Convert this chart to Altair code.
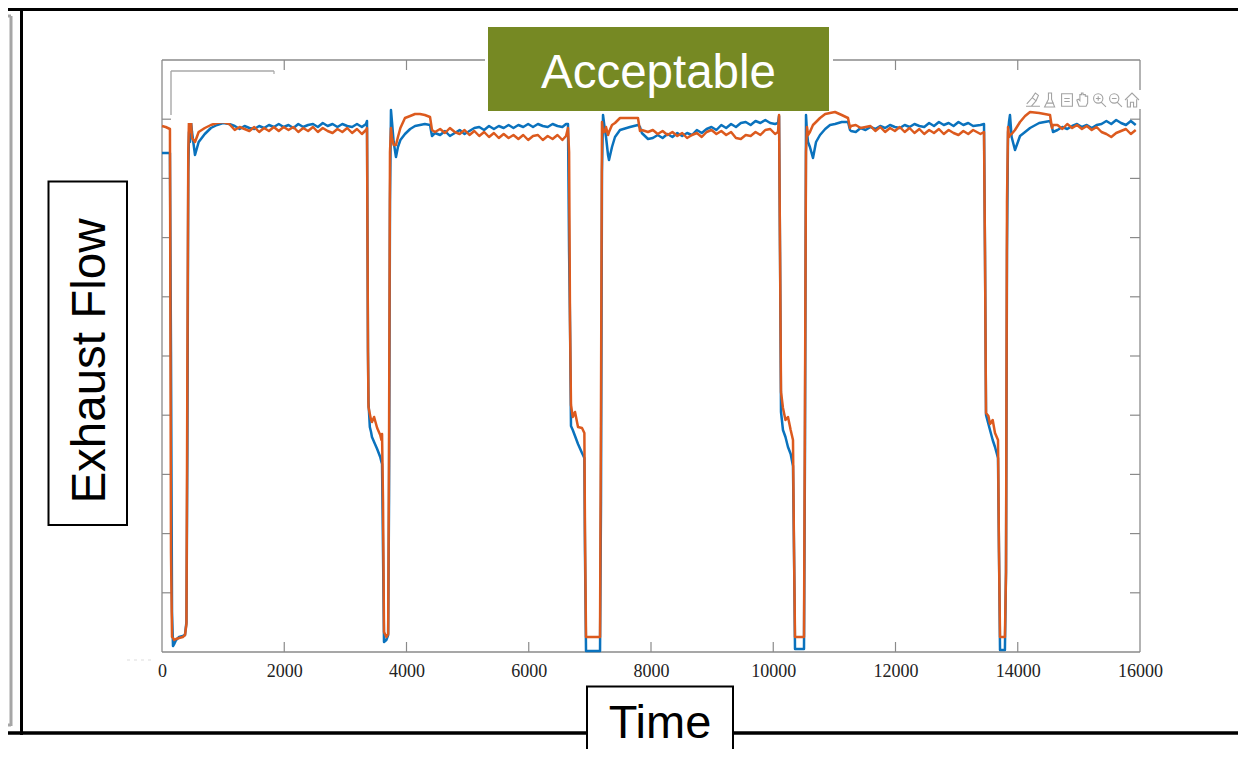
import altair as alt
import pandas as pd

# ---- data (flow is in the plot's unlabelled units, 0-592) ----
TIME = [
    0, 60, 130, 147, 164, 180, 200, 230, 280, 340, 376, 400, 415, 430, 442, 458, 475, 491, 540, 600, 700, 800, 900, 1000, 1100, 1190,
    1270, 1350, 1430, 1510, 1590, 1670, 1750, 1830, 1910, 1990, 2070, 2150, 2230, 2310, 2390, 2470, 2550, 2630, 2710, 2790, 2870, 2950, 3030, 3110, 3190, 3270,
    3337, 3354, 3370, 3378, 3400, 3420, 3435, 3470, 3520, 3570, 3590, 3600, 3616, 3632, 3670, 3700, 3714, 3730, 3746, 3763, 3790, 3828, 3860, 3900, 3975, 4060, 4140, 4220, 4300, 4385, 4417, 4466,
    4550, 4630, 4710, 4790, 4870, 4950, 5030, 5110, 5190, 5270, 5350, 5430, 5510, 5590, 5670, 5750, 5830, 5910, 5990, 6070, 6150, 6230, 6310, 6390, 6470, 6550, 6610,
    6642, 6660, 6675, 6691, 6720, 6757, 6806, 6871, 6910, 6920, 6937, 7000, 7166, 7182, 7198, 7215, 7240, 7264, 7297, 7313, 7362, 7411, 7493, 7656, 7787, 7820, 7850, 7951,
    8030, 8110, 8190, 8270, 8350, 8430, 8510, 8590, 8670, 8750, 8830, 8910, 8990, 9070, 9150, 9230, 9310, 9390, 9470, 9550, 9630, 9710, 9790, 9870, 9950, 10030,
    10078, 10095, 10111, 10127, 10159, 10200, 10241, 10285, 10323, 10340, 10356, 10503, 10519, 10536, 10552, 10569, 10600, 10650, 10700, 10765, 10850, 10929, 11010, 11120, 11223, 11256, 11272,
    11350, 11430, 11510, 11590, 11670, 11750, 11830, 11910, 11990, 12070, 12150, 12230, 12310, 12390, 12470, 12550, 12630, 12710, 12790, 12870, 12950, 13030, 13110, 13190, 13270, 13390,
    13448, 13464, 13481, 13520, 13546, 13590, 13628, 13677, 13693, 13710, 13790, 13808, 13824, 13841, 13857, 13873, 13900, 13955, 14037, 14120, 14201, 14350, 14528, 14560, 14577,
    14650, 14730, 14810, 14890, 14970, 15050, 15130, 15210, 15290, 15370, 15450, 15530, 15610, 15690, 15770, 15850, 15930,
]
FLOW_BLUE = [
    499, 499, 499, 300, 40, 6, 8, 12, 15, 16, 17, 30, 200, 480, 520, 510, 530, 520, 497, 510, 518, 524, 527, 529, 528, 526,
    523, 526, 524, 523, 526, 524, 527, 525, 528, 525, 527, 524, 528, 525, 527, 528, 525, 529, 526, 528, 525, 528, 526, 525, 528, 525,
    528, 531, 300, 250, 225, 220, 215, 210, 203, 195, 190, 188, 100, 10, 12, 17, 150, 450, 542, 530, 510, 495, 505, 512, 518, 523, 526, 527, 528, 527, 516, 519,
    517, 521, 516, 519, 522, 518, 521, 524, 525, 522, 526, 523, 526, 524, 527, 524, 527, 525, 528, 525, 528, 526, 525, 528, 526, 525, 528,
    528, 400, 330, 226, 222, 216, 208, 199, 194, 100, 1, 1, 1, 150, 480, 537, 525, 515, 497, 492, 505, 515, 522, 525, 527, 525, 519, 513,
    514, 517, 514, 518, 515, 519, 516, 519, 517, 522, 519, 523, 525, 522, 527, 524, 528, 525, 529, 530, 527, 531, 529, 532, 529, 528,
    529, 536, 400, 240, 222, 215, 205, 198, 186, 100, 3, 3, 200, 537, 520, 510, 505, 494, 510, 517, 523, 527, 528, 530, 530, 522, 521,
    520, 524, 522, 525, 523, 526, 524, 527, 525, 524, 527, 525, 528, 526, 525, 529, 526, 530, 527, 529, 526, 530, 527, 529, 526, 527,
    528, 400, 237, 228, 222, 212, 205, 194, 100, 2, 2, 80, 400, 520, 530, 537, 515, 502, 516, 520, 524, 529, 531, 525, 520,
    522, 525, 523, 526, 528, 525, 527, 524, 527, 528, 531, 528, 532, 529, 527, 531, 527,
]
FLOW_ORANGE = [
    526, 525, 523, 100, 15, 14, 12, 13, 14, 15, 17, 28, 280, 500, 534, 520, 530, 514, 510, 520, 524, 527, 529, 530, 528, 522,
    525, 523, 521, 525, 520, 524, 521, 525, 521, 525, 522, 525, 520, 524, 521, 525, 520, 524, 521, 519, 523, 520, 524, 519, 523, 518,
    522, 524, 300, 245, 238, 232, 230, 235, 224, 217, 212, 218, 150, 20, 15, 18, 200, 500, 524, 514, 507, 507, 515, 524, 534, 536, 538, 538, 537, 535, 522, 520,
    523, 519, 524, 520, 518, 522, 517, 521, 516, 520, 515, 519, 514, 518, 514, 517, 513, 517, 512, 516, 517, 512, 516, 513, 517, 512, 516,
    524, 500, 330, 247, 235, 240, 225, 224, 219, 120, 15, 15, 15, 250, 530, 520, 520, 525, 517, 520, 527, 529, 534, 534, 534, 521, 522, 520,
    522, 518, 521, 517, 520, 516, 519, 514, 517, 519, 515, 520, 522, 518, 521, 517, 520, 514, 513, 517, 516, 520, 517, 522, 523, 518,
    520, 537, 400, 260, 244, 232, 235, 222, 212, 100, 15, 15, 250, 500, 525, 517, 520, 527, 530, 534, 538, 539, 540, 537, 534, 524, 526,
    527, 524, 525, 526, 521, 525, 520, 524, 521, 525, 520, 524, 519, 523, 518, 522, 519, 523, 518, 522, 519, 517, 521, 518, 522, 518,
    520, 400, 239, 236, 228, 232, 219, 212, 100, 15, 15, 80, 450, 525, 515, 517, 518, 522, 530, 536, 540, 539, 537, 524, 527,
    527, 523, 528, 524, 527, 523, 526, 522, 525, 520, 518, 515, 519, 521, 523, 518, 522,
]
X_TICKS = [0, 2000, 4000, 6000, 8000, 10000, 12000, 14000, 16000]
Y_TICKS = [59.2, 118.4, 177.6, 236.8, 296, 355.2, 414.4, 473.6, 532.8]
Y_LABEL = "Exhaust Flow"
X_LABEL = "Time"
BADGE = "Acceptable"

# ---- page geometry ----
L, T, W, H = 162, 60, 978, 592
PAGE = 8
ONE = alt.Data(values=[{"k": 1}])
px = lambda v: alt.value(v - L)
py = lambda v: alt.value(v - T)

x_scale = alt.Scale(domain=[0, 16000], nice=False, zero=False)
y_scale = alt.Scale(domain=[0, 592], nice=False, zero=False)
x_axis = alt.Axis(
    title=None, values=X_TICKS, ticks=False, domain=False, grid=False,
    labelFont="Liberation Serif", labelFontSize=18, labelColor="#222222",
    labelPadding=10, labelFlush=False, format="d")
GREY = "#8a8a8a"


def rect(x0, x1, y0, y1, fill="white", **kw):
    return alt.Chart(ONE).mark_rect(fill=fill, clip=False, **kw).encode(
        x=px(x0), x2=px(x1), y=py(y0), y2=py(y1))


def hline(x0, x1, y, color=GREY, w=1.3, **kw):
    return alt.Chart(ONE).mark_rule(color=color, strokeWidth=w, clip=False, **kw).encode(
        x=px(x0), x2=px(x1), y=py(y))


def vline(x, y0, y1, color=GREY, w=1.3):
    return alt.Chart(ONE).mark_rule(color=color, strokeWidth=w, clip=False).encode(
        x=px(x), y=py(y0), y2=py(y1))


def label(text, x, y, size, color="black", angle=0, font="Liberation Sans"):
    return alt.Chart(alt.Data(values=[{"t": text}])).mark_text(
        fontSize=size, color=color, angle=angle, font=font, align="center",
        baseline="middle", clip=False).encode(x=px(x), y=py(y), text="t:N")


# ---- ticks pointing inward on all sides ----
xt = pd.DataFrame({"tick": X_TICKS[1:-1]})
yt = pd.DataFrame({"tick": Y_TICKS})
X = alt.X("tick:Q", scale=x_scale, axis=x_axis)
Y = alt.Y("tick:Q", scale=y_scale, axis=None)
labels_base = alt.Chart(pd.DataFrame({"tick": X_TICKS})).mark_rule(opacity=0).encode(x=X)
bottom_ticks = alt.Chart(xt).mark_rule(color=GREY, strokeWidth=1.2).encode(
    x=X, y=alt.value(H - 10), y2=alt.value(H))
top_ticks = alt.Chart(xt).mark_rule(color=GREY, strokeWidth=1.2).encode(
    x=X, y=alt.value(0), y2=alt.value(10))
left_ticks = alt.Chart(yt).mark_rule(color=GREY, strokeWidth=1.2).encode(
    y=Y, x=alt.value(0), x2=alt.value(9))
right_ticks = alt.Chart(yt).mark_rule(color=GREY, strokeWidth=1.2).encode(
    y=Y, x=alt.value(W - 10), x2=alt.value(W))

frame = [
    hline(L, 485, T), hline(833, L + W, T), hline(L, L + W, T + H),
    vline(L, T, T + H), vline(L + W, T, 90), vline(L + W, 109, T + H),
]

# ---- the two traces ----
df = pd.DataFrame({"time": TIME, "blue": FLOW_BLUE, "orange": FLOW_ORANGE})
T_X = alt.X("time:Q", scale=x_scale, axis=x_axis)
blue = alt.Chart(df).mark_line(color="#0a72bd", strokeWidth=2.5, strokeJoin="round").encode(
    x=T_X, y=alt.Y("blue:Q", scale=y_scale, axis=None), order="time:Q")
orange = alt.Chart(df).mark_line(color="#dc5a1e", strokeWidth=2.5, strokeJoin="round").encode(
    x=T_X, y=alt.Y("orange:Q", scale=y_scale, axis=None), order="time:Q")

# ---- leftover legend box, masked by white ----
mask = rect(172, 233, 61, 123)
legend_box = [hline(171, 274, 71, color="#a8a8a8", w=1.4), vline(171, 71, 115, color="#a8a8a8", w=1.4),
              vline(274, 71, 74, color="#a8a8a8", w=1.2)]

# ---- toolbar glyphs ----
ICON_X = [1033, 1050, 1067, 1083, 1099, 1115, 1132]
ICONS = [
    "M-0.9 0.8 L0.9 0.8 M-0.8 0.5 L-0.1 -0.3 L0.4 0.1 L-0.2 0.8 M-0.1 -0.3 L0.3 -0.9 L0.7 -0.6 L0.4 0.1",
    "M-0.2 -0.9 L0.2 -0.9 L0.2 -0.1 L0.6 0.9 L-0.7 0.9 L-0.2 -0.1 Z M-0.5 0.4 L0.5 0.4",
    "M-0.7 -0.8 L0.7 -0.8 L0.7 0.8 L-0.7 0.8 Z M-0.35 -0.2 L0.35 -0.2 M-0.35 0.2 L0.35 0.2",
    "M-0.5 0.8 L-0.8 0 L-0.6 -0.1 L-0.4 0.1 L-0.4 -0.7 L-0.2 -0.7 L-0.2 -0.9 L0 -0.9 L0 -0.7 L0.3 -0.7 L0.3 -0.5 L0.6 -0.5 L0.6 0.4 L0.4 0.8 Z",
    "M0.5 -0.2 A0.6 0.6 0 1 1 -0.7 -0.2 A0.6 0.6 0 1 1 0.5 -0.2 Z M0.3 0.3 L0.9 0.9 M-0.4 -0.2 L0.2 -0.2 M-0.1 -0.5 L-0.1 0.1",
    "M0.5 -0.2 A0.6 0.6 0 1 1 -0.7 -0.2 A0.6 0.6 0 1 1 0.5 -0.2 Z M0.3 0.3 L0.9 0.9 M-0.4 -0.2 L0.2 -0.2",
    "M-0.9 0 L0 -0.9 L0.9 0 M-0.6 -0.1 L-0.6 0.9 L-0.2 0.9 L-0.2 0.3 L0.2 0.3 L0.2 0.9 L0.6 0.9 L0.6 -0.1",
]
icons = [
    alt.Chart(ONE).mark_point(shape=p, size=240, filled=False, color="#a3a3a3", strokeWidth=1.1,
                              opacity=1, clip=False).encode(x=px(x), y=py(100))
    for x, p in zip(ICON_X, ICONS)
]

# ---- slide furniture (the page margin limits how far it can reach) ----
RIGHT, BOTTOM = 1238, 749
furniture = [
    vline(11, 16, 726, color="#a6a6a6", w=3),
    hline(PAGE, 11, 16, color="#a6a6a6", w=3),
    hline(PAGE, 11, 725, color="#a6a6a6", w=3),
    vline(21.5, PAGE, 735, color="black", w=3),
    hline(PAGE, RIGHT, 9.5, color="black", w=3),
    hline(PAGE, RIGHT, 733, color="black", w=3.5),
    hline(127, 152, 660, color="#dddddd", w=1, strokeDash=[3, 4]),
]
badge = [rect(488, 829, 27, 111, fill="#768923"), label(BADGE, 658.5, 74, 47.5, color="white")]
ylab = [
    alt.Chart(ONE).mark_rect(fill="white", stroke="black", strokeWidth=2, clip=False).encode(
        x=px(48.5), x2=px(127), y=py(181.5), y2=py(525)),
    label(Y_LABEL, 91, 361, 47.5, angle=270),
]
xlab = [
    alt.Chart(ONE).mark_rect(fill="white", stroke="black", strokeWidth=2, clip=False).encode(
        x=px(587), x2=px(733), y=py(686.5), y2=py(770)),
    label(X_LABEL, 660, 724, 47),
]

chart = alt.layer(
    labels_base, *frame, bottom_ticks, top_ticks, left_ticks, right_ticks,
    blue, orange, mask, *legend_box, *icons, *furniture, *badge, *ylab, *xlab,
).properties(
    width=W, height=H,
    autosize=alt.AutoSizeParams(type="none"),
    padding={"left": L - PAGE, "top": T - PAGE, "right": RIGHT - L - W, "bottom": BOTTOM - T - H},
).configure_view(stroke=None)

assert len(TIME) == len(FLOW_BLUE) == len(FLOW_ORANGE), (len(TIME), len(FLOW_BLUE), len(FLOW_ORANGE))
chart.save("out.html", embed_options={"renderer": "svg", "actions": False})
